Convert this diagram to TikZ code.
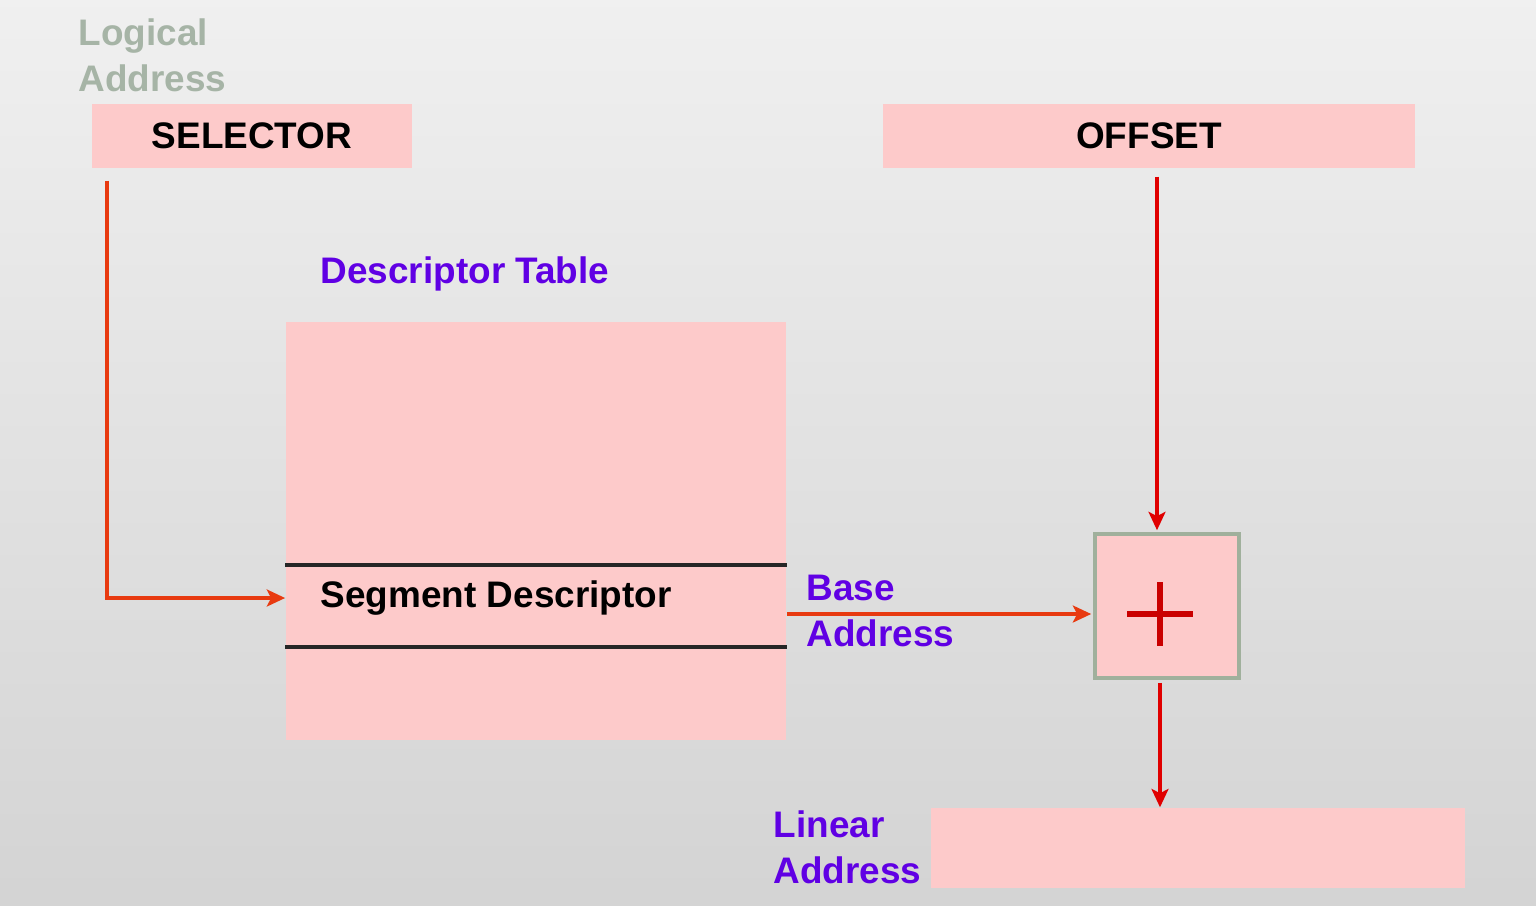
\documentclass[tikz,border=0pt]{standalone}
\usepackage{fontspec}
\setmainfont{Liberation Sans}
\usetikzlibrary{arrows.meta,positioning,calc}

\definecolor{boxpink}{RGB}{253,202,202}
\definecolor{tagpurple}{RGB}{96,0,228}
\definecolor{fadegreen}{RGB}{166,180,166}
\definecolor{linkred}{RGB}{224,0,0}
\definecolor{linkorange}{RGB}{232,58,16}
\definecolor{addborder}{RGB}{160,176,156}

\begin{document}
\begin{tikzpicture}[%
  x=0.01cm, y=-0.01cm, %
  field/.style={fill=boxpink, draw=none, inner sep=0pt,
    font=\fontsize{10.5}{13}\selectfont\bfseries},
  tag/.style={text=tagpurple, anchor=west, align=left, inner sep=0pt,
    font=\fontsize{10.5}{13}\selectfont\bfseries},
  link/.style={line width=1pt, -{Stealth[length=5.2pt,width=4.8pt,inset=1.2pt]}},
  entry/.style={line width=1.2pt, black!85}
  ]

  % Background
  \useasboundingbox (0,0) rectangle (1536,905);
  \fill[top color=black!6, bottom color=black!17] (0,0) rectangle (1536,905);

  % Logical address
  \node[tag, text=fadegreen] (logaddr) at (78,55) {Logical\\Address};
  \node[field, minimum width=3.2cm, minimum height=0.64cm] (sel) at (252,136) {SELECTOR};
  \node[field, minimum width=5.32cm, minimum height=0.64cm] (off) at (1149,136) {OFFSET};

  % Descriptor table
  \node[tag] (tbltitle) at (320,274) {Descriptor Table};
  \node[field, minimum width=5cm, minimum height=4.18cm] (tbl) at (536,531) {};
  \node[minimum width=5cm, minimum height=0.8cm, inner sep=0pt] (row) at (536,606) {};
  \draw[entry] (row.north west) -- (row.north east);
  \draw[entry] (row.south west) -- (row.south east);
  \node[field, fill=none, anchor=west] (segd) at (320,598) {Segment Descriptor};
  \node[tag] (baselbl) at (806,611) {Base\\Address};

  % Adder
  \node[fill=boxpink, draw=addborder, line width=1pt, minimum size=1.44cm] (adder) at (1167,606) {};
  \coordinate (pc) at (1160,614);
  \draw[linkred!90!black, line width=1.5pt] ($(pc)+(-33,0)$) -- ($(pc)+(33,0)$);
  \draw[linkred!90!black, line width=1.5pt] ($(pc)+(0,-32)$) -- ($(pc)+(0,32)$);

  % Linear address
  \node[field, minimum width=5.33cm, minimum height=0.8cm] (lin) at (1198,848) {};
  \node[tag] (linlbl) at (773,847) {Linear\\Address};

  % Connectors
  \draw[link, linkorange] ([xshift=0.16cm,yshift=-0.12cm]sel.south west) |- (tbl.west |- segd.west);
  \draw[link, linkorange] (tbl.east |- pc) -- ($(adder.west |- pc)+(-2,0)$);
  \draw[link, linkred] ($(pc |- off.south)+(-3,8)$) -- ($(pc |- adder.north)+(-3,-2)$);
  \draw[link, linkred] ($(pc |- adder.south)+(0,3)$) -- (pc |- lin.north);

\end{tikzpicture}
\end{document}
